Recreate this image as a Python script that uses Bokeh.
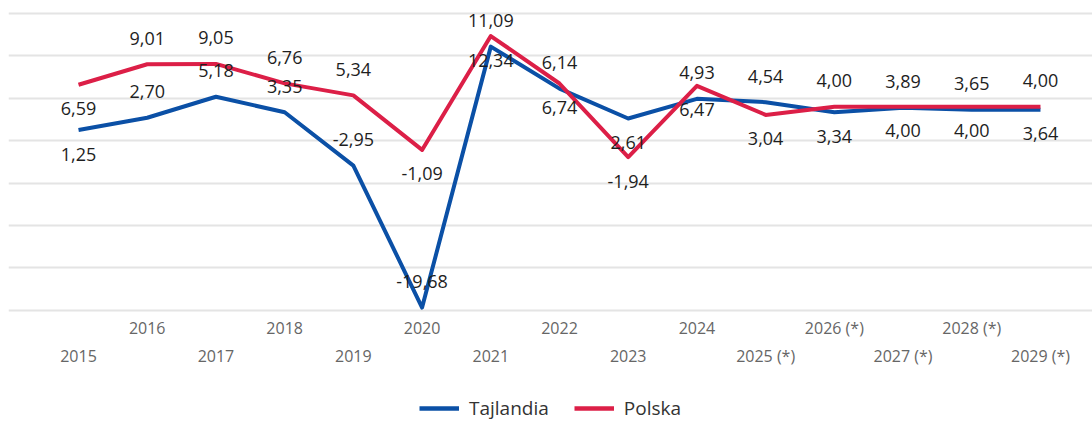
from bokeh.plotting import figure
from bokeh.layouts import column
from bokeh.models import (Range1d, LinearAxis, FixedTicker, Grid, Legend,
                          LegendItem, ColumnDataSource)
from bokeh.core.properties import value
from bokeh.embed import file_html
from bokeh.resources import INLINE

# ---- data -----------------------------------------------------------------
years = ["2015", "2016", "2017", "2018", "2019", "2020", "2021", "2022",
         "2023", "2024", "2025 (*)", "2026 (*)", "2027 (*)", "2028 (*)",
         "2029 (*)"]
tajlandia = [1.25, 2.70, 5.18, 3.35, -2.95, -19.68, 11.09, 6.14, 2.61, 4.93,
             4.54, 3.34, 3.89, 3.65, 3.64]
polska = [6.59, 9.01, 9.05, 6.76, 5.34, -1.09, 12.34, 6.74, -1.94, 6.47,
          3.04, 4.00, 4.00, 4.00, 4.00]
series_names = ["Tajlandia", "Polska"]
grid_values = [-20, -15, -10, -5, 0, 5, 10, 15]

BLUE = "#0b50a6"
RED = "#dc1f47"

idx = list(range(len(years)))
y_lo, y_hi = -20.50, 16.53

p = figure(width=1092, height=372, x_range=Range1d(-1.019, 14.757),
           y_range=Range1d(y_lo, y_hi), output_backend="svg",
           toolbar_location=None, x_axis_location=None, y_axis_location=None,
           min_border_left=8, min_border_right=0, min_border_top=0,
           min_border_bottom=58, outline_line_color=None,
           background_fill_color="white", border_fill_color="white")

for r in list(p.center):
    if isinstance(r, Grid):
        r.visible = False

p.add_layout(Grid(dimension=1, ticker=FixedTicker(ticks=grid_values),
                  grid_line_color="#e4e4e4", grid_line_width=2))

r_t = p.line(idx, tajlandia, line_color=BLUE, line_width=4, line_join="round")
r_p = p.line(idx, polska, line_color=RED, line_width=4, line_join="round")


def local_min(vals, i):
    nb = [vals[j] for j in (i - 1, i + 1) if 0 <= j < len(vals)]
    return all(vals[i] < v for v in nb)


t_below = [local_min(tajlandia, i) and tajlandia[i] > y_lo + 3 for i in idx]
p_below = [local_min(polska, i) for i in idx]
for i in idx:
    if p_below[i] == t_below[i] and abs(polska[i] - tajlandia[i]) < 2:
        p_below[i] = not p_below[i]


def fmt(v):
    return ("%.2f" % v).replace(".", ",")


lab_x, lab_y, lab_t, lab_off = [], [], [], []
for vals, below in ((tajlandia, t_below), (polska, p_below)):
    for i in idx:
        lab_x.append(i)
        lab_y.append(vals[i])
        lab_t.append(fmt(vals[i]))
        lab_off.append(24 if below[i] else -26)

src = ColumnDataSource(dict(x=lab_x, y=lab_y, t=lab_t, off=lab_off))
p.text(x="x", y="y", text="t", y_offset="off", source=src,
       text_align="center", text_baseline="middle",
       text_font=value("Open Sans"), text_font_size="18px",
       text_color="#1e1e1e")

# ---- two staggered rows of category labels -------------------------------
for rows, standoff in ((idx[1::2], 2), (idx[0::2], 3)):
    ax = LinearAxis(ticker=FixedTicker(ticks=rows),
                    major_label_overrides={i: years[i] for i in rows},
                    axis_line_color=None, major_tick_line_color=None,
                    minor_tick_line_color=None, major_tick_in=0,
                    major_tick_out=0, major_label_standoff=standoff,
                    major_label_text_font="Open Sans",
                    major_label_text_font_size="16px",
                    major_label_text_color="#666666")
    p.add_layout(ax, "below")

# ---- legend strip underneath ---------------------------------------------
lf = figure(width=1092, height=49, x_range=Range1d(100, 101),
            y_range=Range1d(100, 101), output_backend="svg",
            toolbar_location=None, x_axis_location=None,
            y_axis_location=None, min_border=0, outline_line_color=None,
            background_fill_color="white", border_fill_color="white")
for r in list(lf.center):
    if isinstance(r, Grid):
        r.visible = False
# key renderers: same series, but outside this strip's visible ranges
k_t = lf.line(idx, tajlandia, line_color=BLUE, line_width=4.5)
k_p = lf.line(idx, polska, line_color=RED, line_width=4.5)

legend = Legend(items=[LegendItem(label=series_names[0], renderers=[k_t]),
                       LegendItem(label=series_names[1], renderers=[k_p])],
                orientation="horizontal", location=(411, 0),
                border_line_color=None, background_fill_alpha=0,
                padding=0, margin=0, spacing=25, label_standoff=10,
                glyph_width=40, glyph_height=20, label_height=20,
                label_text_font="Open Sans", label_text_font_size="19px",
                label_text_color="#333333")
lf.add_layout(legend, "center")

open("out.html", "w").write(file_html(column(p, lf, spacing=0), INLINE))
